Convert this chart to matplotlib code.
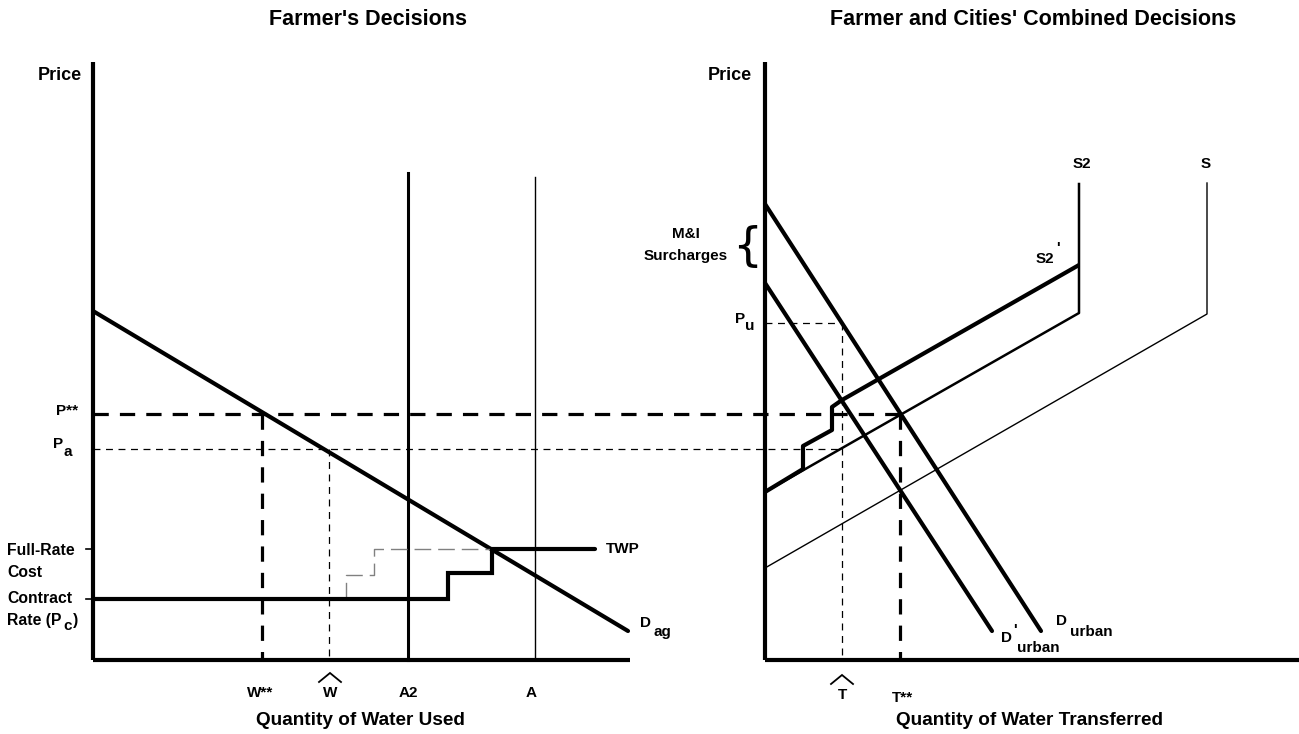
"""Farmer's decisions vs. farmer and cities' combined decisions (water transfer diagram)."""

import matplotlib

matplotlib.use("Agg")
import matplotlib.pyplot as plt

plt.rcParams["font.family"] = ["Liberation Sans", "DejaVu Sans"]
plt.rcParams["font.weight"] = "bold"
plt.rcParams["lines.scale_dashes"] = False

# ---- left panel (units: price / quantity, origin at the axes corner) ----
Q_MAX_L = 537
P_MAX = 598
DAG_Q = [0, 535]
DAG_P = [349, 29]
P_STAR = 246          # P**
P_A = 211             # P_a
P_FULL = 111          # full-rate cost
P_CONTRACT = 61       # contract rate
W_STAR = 169
W_HAT = 236
A2_Q, A2_TOP = 315, 487
A_Q, A_TOP = 442, 483
TWP_Q = [0, 355, 355, 399, 399, 502]
TWP_P = [61, 61, 87, 87, 111, 111]
GREY_Q = [253, 253, 281, 281, 399]
GREY_P = [61, 85, 85, 111, 111]

# ---- right panel ----
Q_MAX_R = 534
DURB_Q = [0, 276]
DURB_P = [456, 29]
DURB2_Q = [0, 227]
DURB2_P = [377, 29]
S_Q = [0, 442, 442]
S_P = [92, 346, 477]
S2_Q = [0, 314, 314]
S2_P = [168, 347, 476]
S2P_Q = [0, 38, 38, 67, 67, 77, 314]
S2P_P = [168, 191, 214, 230, 253, 260, 395]
P_U = 337
T_HAT = 77
T_STAR = 135

PANEL_GAP = 672  # distance between the two origins, in quantity units

W, H = 1299, 734
fig = plt.figure(figsize=(W / 100, H / 100), dpi=100)
axl = fig.add_axes([93 / W, 74 / H, Q_MAX_L / W, P_MAX / H])
axr = fig.add_axes([765 / W, 74 / H, Q_MAX_R / W, P_MAX / H])
axl.set_xlim(0, Q_MAX_L); axl.set_ylim(0, P_MAX)
axr.set_xlim(0, Q_MAX_R); axr.set_ylim(0, P_MAX)
for ax in (axl, axr):
    ax.axis("off")

K = "black"
thick = dict(color=K, lw=3, solid_capstyle="round", clip_on=False)
big_dash = dict(color=K, lw=2.3, dashes=(11, 8), clip_on=False)
small_dash = dict(color=K, lw=0.9, dashes=(5, 4), clip_on=False)

# axes
for ax, qmax in ((axl, Q_MAX_L), (axr, Q_MAX_R)):
    ax.plot([0, 0], [0, P_MAX], color=K, lw=3, solid_capstyle="butt", clip_on=False)
    ax.plot([0, qmax], [0, 0], color=K, lw=3, solid_capstyle="butt", clip_on=False)

# ---- left panel marks ----
axl.plot(DAG_Q, DAG_P, **thick)
axl.plot([A2_Q, A2_Q], [0, A2_TOP], color=K, lw=2.2, clip_on=False)
axl.plot([A_Q, A_Q], [0, A_TOP], color=K, lw=1.0, clip_on=False)
axl.plot(GREY_Q, GREY_P, color="#808080", lw=1.0, dashes=(12, 5), clip_on=False)
axl.plot(TWP_Q, TWP_P, color=K, lw=3, solid_capstyle="round",
         solid_joinstyle="miter", clip_on=False)
axl.plot([-7, 0], [P_FULL, P_FULL], color=K, lw=1.2, clip_on=False)
axl.plot([-7, 0], [P_CONTRACT, P_CONTRACT], color=K, lw=1.2, clip_on=False)

# P** line runs across into the right panel, up to T**
axl.plot([0, PANEL_GAP + T_STAR], [P_STAR, P_STAR], **big_dash)
axl.plot([W_STAR, W_STAR], [P_STAR, 0], **big_dash)
axl.plot([0, PANEL_GAP + T_HAT], [P_A, P_A], **small_dash)
axl.plot([W_HAT, W_HAT], [P_A, 0], **small_dash)

# ---- right panel marks ----
axr.plot(S_Q, S_P, color=K, lw=1.0, clip_on=False)
axr.plot(S2_Q, S2_P, color=K, lw=1.8, clip_on=False)
axr.plot(S2P_Q, S2P_P, color=K, lw=3, solid_capstyle="butt", clip_on=False)
axr.plot(DURB_Q, DURB_P, **thick)
axr.plot(DURB2_Q, DURB2_P, **thick)
axr.plot([T_STAR, T_STAR], [P_STAR, 0], **big_dash)
axr.plot([0, T_HAT], [P_U, P_U], **small_dash)
axr.plot([T_HAT, T_HAT], [P_U, 0], **small_dash)

# ---- text ----
def txt(ax, x, y, s, size=11, ha="center", **kw):
    ax.text(x, y, s, fontsize=size, ha=ha, va="baseline", fontweight="bold",
            clip_on=False, **kw)


def hat(ax, x, y):
    # wide circumflex drawn over a tick label
    ax.plot([x - 11, x, x + 11], [y - 9, y, y - 9], color=K, lw=1.3,
            solid_joinstyle="miter", clip_on=False)

# left
txt(axl, 275, 635, "Farmer's Decisions", size=15.5)
txt(axl, -33, 580, "Price", size=13)
txt(axl, -15, 245, "P**", ha="right")
txt(axl, -30, 212, "P", ha="right")
txt(axl, -30, 204, "a", ha="left")
txt(axl, -86, 105, "Full-Rate", ha="left", size=11.3)
txt(axl, -86, 83, "Cost", ha="left", size=11.3)
txt(axl, -86, 57, "Contract", ha="left", size=11.3)
txt(axl, -86, 35, "Rate (P", ha="left", size=11.3)
txt(axl, -30, 30, "c", ha="left")
txt(axl, -20, 35, ")", ha="left", size=11.3)
txt(axl, 530, 107, "TWP")
txt(axl, 547, 33, "D", ha="left")
txt(axl, 560, 24, "ag", ha="left")
txt(axl, W_STAR - 2, -37, "W**")
txt(axl, W_HAT + 1, -37, "W")
hat(axl, W_HAT + 1, -13)
txt(axl, A2_Q, -37, "A2")
txt(axl, A_Q - 4, -37, "A")
txt(axl, 267, -65, "Quantity of Water Used", size=13.7)

# right
txt(axr, 268, 635, "Farmer and Cities' Combined Decisions", size=15.5)
txt(axr, -35, 580, "Price", size=13)
txt(axr, -79, 422, "M&I")
txt(axr, -79, 400, "Surcharges")
axr.text(-18, 412, "{", fontsize=34, fontweight="normal", ha="center", va="center",
         family="DejaVu Sans", clip_on=False)
txt(axr, -20, 337, "P", ha="right")
txt(axr, -20, 330, "u", ha="left")
txt(axr, 317, 492, "S2")
txt(axr, 441, 492, "S")
txt(axr, 280, 397, "S2")
txt(axr, 291, 408, "'", ha="left")
txt(axr, 236, 18, "D", ha="left")
txt(axr, 248, 26, "'", ha="left")
txt(axr, 252, 8, "urban", ha="left")
txt(axr, 291, 35, "D", ha="left")
txt(axr, 305, 24, "urban", ha="left")
txt(axr, T_HAT, -39, "T")
hat(axr, T_HAT, -15)
txt(axr, T_STAR + 3, -42, "T**")
txt(axr, 265, -65, "Quantity of Water Transferred", size=13.7)

fig.savefig("out.png", dpi=100, facecolor="white")
